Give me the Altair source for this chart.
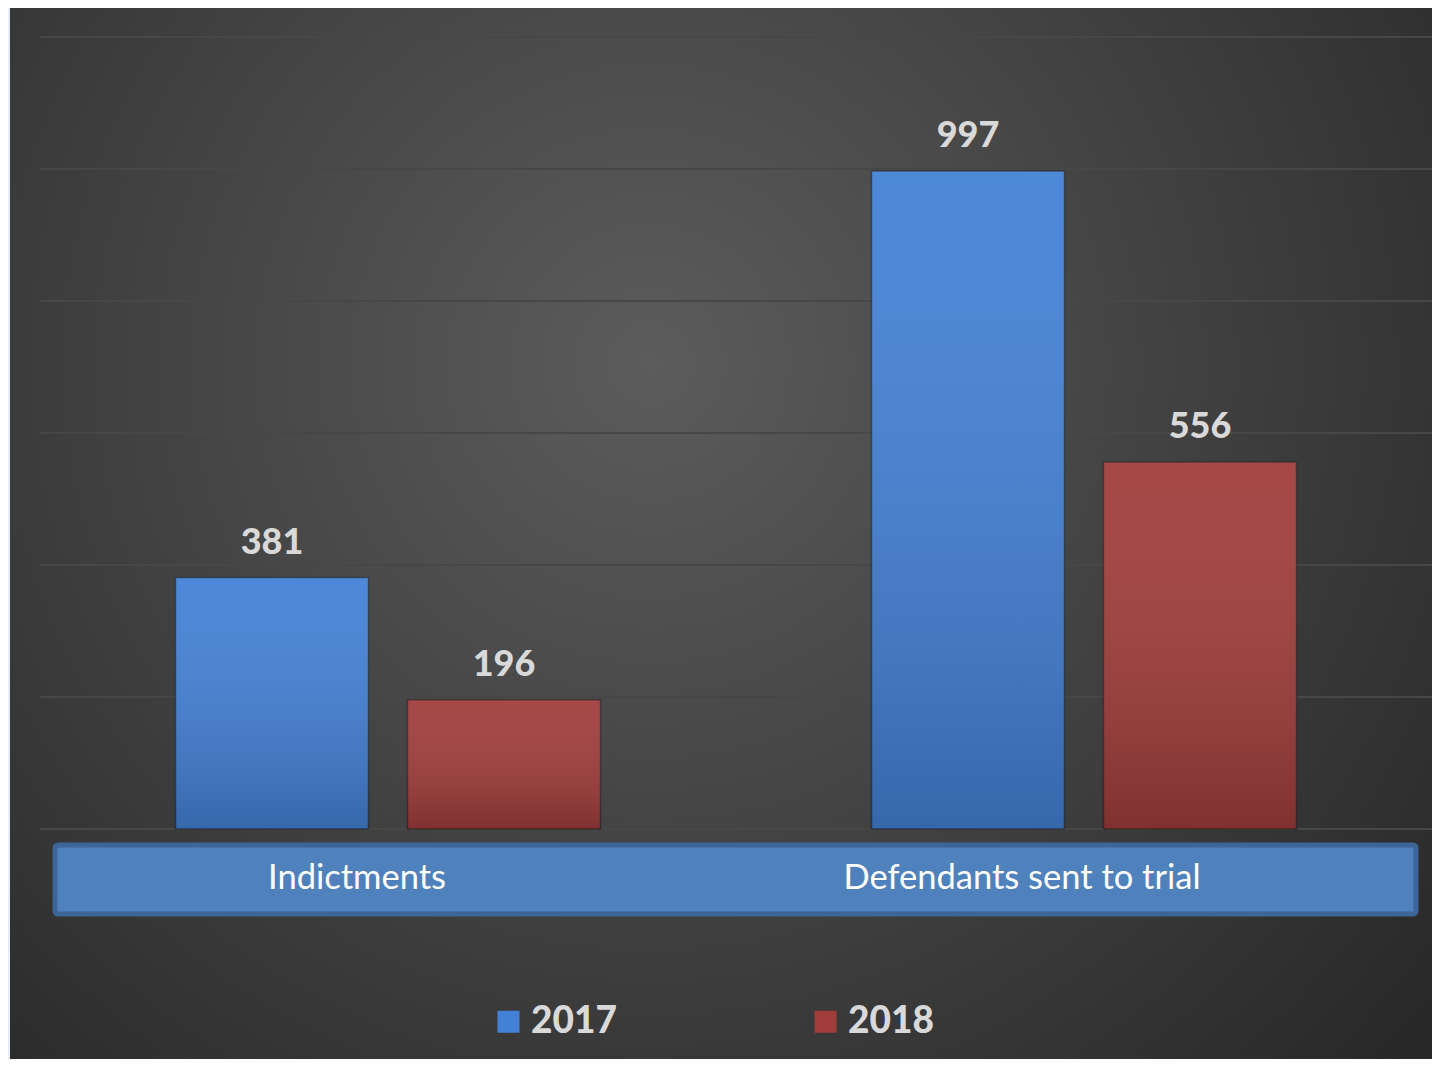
import altair as alt
import pandas as pd

categories = ["Indictments", "Defendants sent to trial"]
years = ["2017", "2018"]
values_2017 = [381, 997]
values_2018 = [196, 556]
tick_values = [0, 200, 400, 600, 800, 1000, 1200]

rows = []
for i, c in enumerate(categories):
    rows.append({"category": c, "year": years[0], "value": values_2017[i]})
    rows.append({"category": c, "year": years[1], "value": values_2018[i]})
df = pd.DataFrame(rows)
ticks_df = pd.DataFrame({"tick": tick_values})
cat_df = pd.DataFrame({"category": categories})
dummy = pd.DataFrame({"a": [0]})

W, H = 1392, 792
PB = 230
BLUE = "#4381d6"
RED = "#a03d3b"

bg = alt.Chart(dummy).mark_rect(
    fill={
        "gradient": "radial",
        "x1": 0.45, "y1": 0.38, "r1": 0,
        "x2": 0.45, "y2": 0.38, "r2": 0.72,
        "stops": [
            {"offset": 0, "color": "#5c5c5c"},
            {"offset": 1, "color": "#282828"},
        ],
    }
).encode(
    x=alt.value(-30), x2=alt.value(W), y=alt.value(-29), y2=alt.value(H + PB)
)

ydef = alt.Y("tick:Q", scale=alt.Scale(domain=[0, 1200]), axis=None)
grid = alt.Chart(ticks_df).mark_rule(color="#474747", strokeWidth=2).encode(y=ydef)

xdef = alt.X("category:N", sort=categories,
             scale=alt.Scale(paddingInner=0, paddingOuter=0), axis=None)
xoff = alt.XOffset("year:N", sort=years,
                   scale=alt.Scale(paddingInner=0.168, paddingOuter=0.584))
yval = alt.Y("value:Q", scale=alt.Scale(domain=[0, 1200]), axis=None)

bars = alt.Chart(df).mark_bar(stroke="#222222", strokeWidth=1.5, strokeOpacity=0.6).encode(
    x=xdef, xOffset=xoff, y=yval,
    color=alt.Color(
        "year:N", sort=years,
        scale=alt.Scale(domain=years, range=[BLUE, RED]),
        legend=alt.Legend(
            title=None, orient="none", direction="horizontal",
            legendX=450, legendY=966,
            symbolType="square", symbolSize=484, symbolStrokeWidth=0,
            symbolOpacity=1,
            labelFont="Lato", labelFontSize=37, labelFontWeight=900,
            labelColor="#d9d9d9", labelOffset=4, columnPadding=190,
        ),
    ),
)

shade = alt.Chart(df).mark_bar(
    fill={
        "gradient": "linear", "x1": 0, "y1": 0, "x2": 0, "y2": 1,
        "stops": [
            {"offset": 0, "color": "rgba(255,255,255,0.06)"},
            {"offset": 1, "color": "rgba(0,0,0,0.20)"},
        ],
    }
).encode(x=xdef, xOffset=xoff, y=yval)

labels = alt.Chart(df).mark_text(
    font="Lato", fontSize=36, fontWeight=900, color="#d9d9d9",
    baseline="middle", dy=-35,
).encode(x=xdef, xOffset=xoff, y=yval, text=alt.Text("value:Q"))

box = alt.Chart(dummy).mark_rect(
    fill="#4f81bd", stroke="#3d6597", strokeWidth=5, cornerRadius=3
).encode(x=alt.value(15), x2=alt.value(1376), y=alt.value(808), y2=alt.value(877))

cat1 = alt.Chart(cat_df).transform_filter(
    alt.datum.category == categories[0]
).mark_text(font="Lato", fontSize=34.5, color="#ffffff", baseline="middle", dx=-31).encode(
    x=xdef, y=alt.value(842), text="category:N"
)
cat2 = alt.Chart(cat_df).transform_filter(
    alt.datum.category == categories[1]
).mark_text(font="Lato", fontSize=34.5, color="#ffffff", baseline="middle", dx=-62).encode(
    x=xdef, y=alt.value(842), text="category:N"
)

chart = alt.layer(bg, grid, bars, shade, labels, box, cat1, cat2).resolve_scale(
    y="shared"
).properties(
    width=W, height=H,
    autosize=alt.AutoSizeParams(type="none"),
    padding={"left": 32, "top": 29, "right": 0, "bottom": PB},
    background="#e6edf6",
).configure_view(stroke=None)

chart.save("out.html", embed_options={"renderer": "svg", "actions": False})
